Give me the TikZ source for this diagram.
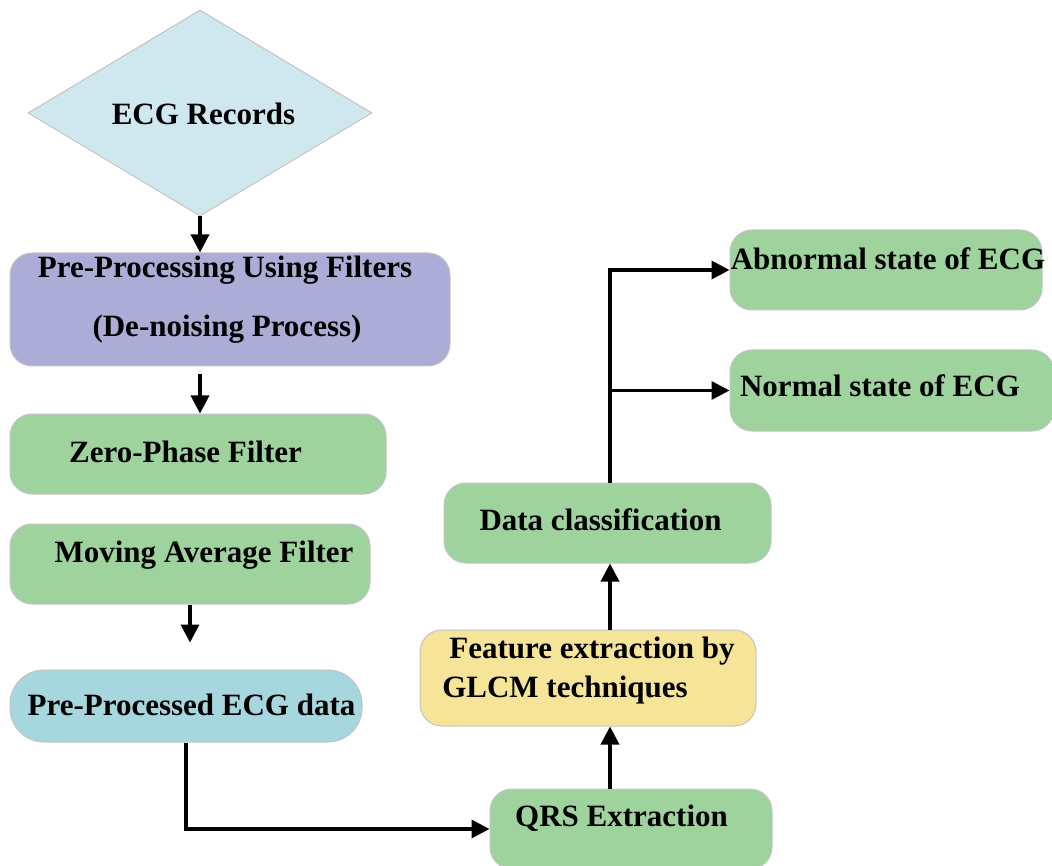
\documentclass[tikz,border=0pt]{standalone}
\usepackage{fontspec}
\setmainfont{Liberation Serif}
\usetikzlibrary{shapes.geometric,arrows.meta}
\definecolor{boxgreen}{RGB}{158,211,157}
\definecolor{boxlav}{RGB}{171,173,215}
\definecolor{boxteal}{RGB}{166,214,222}
\definecolor{boxyellow}{RGB}{246,228,152}
\definecolor{boxdia}{RGB}{207,231,238}
\definecolor{boxedge}{RGB}{195,195,195}
\tikzset{
  box/.style={draw=boxedge, line width=1pt, rounded corners=22pt, inner sep=0pt},
  lbl/.style={anchor=base, inner sep=0pt, font=\fontsize{31}{36}\selectfont\bfseries},
  arr/.style={line width=3.5pt, line join=miter, -{Triangle[length=18pt,width=18pt]}}
}
\begin{document}
\begin{tikzpicture}[x=1pt,y=-1pt]
\useasboundingbox (0,0) rectangle (1052,866);
% shapes
\node[diamond, draw=boxedge, line width=1pt, fill=boxdia, inner sep=0pt, aspect=1.67,
      minimum width=344pt, minimum height=206pt] (ecg) at (200,113) {};
\node[box, fill=boxlav, minimum width=440pt, minimum height=113pt] (pre) at (230,309.5) {};
\node[box, fill=boxgreen, minimum width=376pt, minimum height=80pt] (zp) at (198,454) {};
\node[box, fill=boxgreen, minimum width=360pt, minimum height=80pt] (ma) at (190,564) {};
\node[box, fill=boxteal, rounded corners=34pt, minimum width=352pt, minimum height=72pt] (ppd) at (186,706) {};
\node[box, fill=boxgreen, minimum width=282pt, minimum height=80pt] (qrs) at (631,829) {};
\node[box, fill=boxyellow, minimum width=336pt, minimum height=96pt] (feat) at (588,678) {};
\node[box, fill=boxgreen, minimum width=327pt, minimum height=80pt] (dc) at (607.5,523) {};
\node[box, fill=boxgreen, minimum width=312pt, minimum height=80pt] (abn) at (886,270) {};
\node[box, fill=boxgreen, minimum width=324pt, minimum height=81pt] (nor) at (892,390.5) {};
% texts
\node[lbl] (t1) at (203.5,125) {ECG Records};
\node[lbl] (t2) at (225,278) {Pre-Processing Using Filters};
\node[lbl] (t3) at (227,337) {(De-noising Process)};
\node[lbl] (t4) at (185.5,462) {Zero-Phase Filter};
\node[lbl] (t5) at (204,562) {Moving Average Filter};
\node[lbl] (t6) at (191.5,715) {Pre-Processed ECG data};
\node[lbl] (t7) at (621.5,826) {QRS Extraction};
\node[lbl] (t8) at (592,658) {Feature extraction by};
\node[lbl] (t9) at (565,697) {GLCM techniques};
\node[lbl] (t10) at (600.5,530) {Data classification};
\node[lbl] (t11) at (888,270) {Abnormal state of ECG};
\node[lbl] (t12) at (880,396) {Normal state of ECG};
% connectors
\coordinate (cx) at (610,0);
\draw[arr] (ecg.south) -- (ecg.south |- pre.north);
\draw[arr] ([yshift=-8pt]ecg.south |- pre.south) -- (ecg.south |- zp.north);
\draw[arr] (ma.south) -- ([yshift=27pt]ppd.north -| ma.south);
\draw[arr] (ppd.south) |- (qrs.west);
\draw[arr] (cx |- qrs.north) -- (cx |- feat.south);
\draw[arr] (cx |- feat.north) -- (cx |- dc.south);
\draw[arr] (cx |- dc.north) |- (abn.west);
\draw[arr] (cx |- nor.west) -- (nor.west);
\end{tikzpicture}
\end{document}
